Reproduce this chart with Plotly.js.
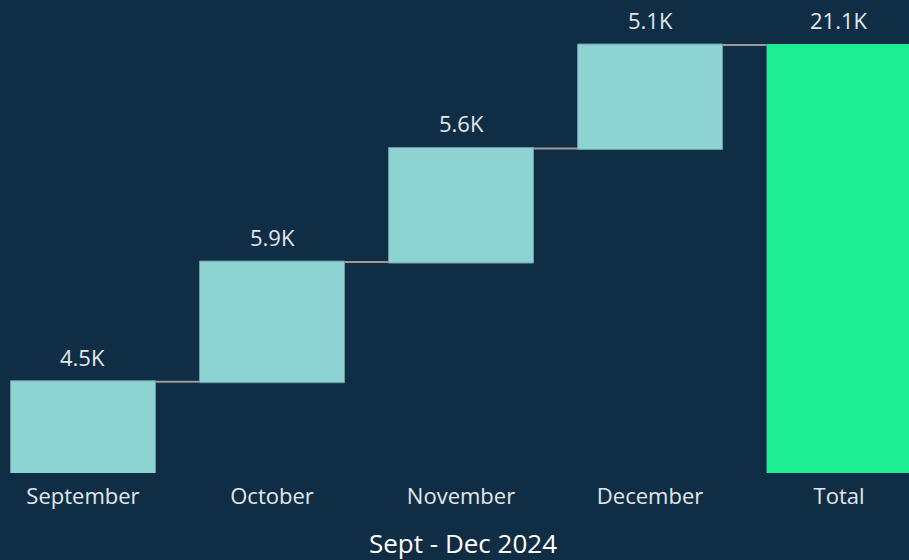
<!DOCTYPE html>
<html>
<head>
<meta charset="utf-8">
<script src="https://cdn.plot.ly/plotly-3.0.1.min.js"></script>
<style>
html,body{margin:0;padding:0;background:#0f2e46;overflow:hidden;}
#chart{width:909px;height:560px;}
</style>
</head>
<body>
<div id="chart"></div>
<script>
const categories = ["September", "October", "November", "December", "Total"];
const measures = ["relative", "relative", "relative", "relative", "total"];
const values = [4.5, 5.9, 5.6, 5.1, 0];
const labels = ["4.5K", "5.9K", "5.6K", "5.1K", "21.1K"];
const chartTitle = "Sept - Dec 2024";

// cumulative tops for label placement
const tops = [];
let run = 0;
for (let i = 0; i < values.length; i++) {
  if (measures[i] === "total") { tops.push(run); } else { run += values[i]; tops.push(run); }
}

const trace = {
  type: "waterfall",
  x: categories,
  y: values,
  measure: measures,
  textposition: "none",
  increasing: { marker: { color: "#8dd3d2", line: { color: "#6f9aa0", width: 1 } } },
  decreasing: { marker: { color: "#8dd3d2", line: { color: "#6f9aa0", width: 1 } } },
  totals: { marker: { color: "#1ded93", line: { color: "#1ded93", width: 0 } } },
  connector: { line: { color: "#9a9a9a", width: 2 }, mode: "between" },
  hoverinfo: "none"
};

const annotations = categories.map((c, i) => ({
  x: c, y: tops[i], xref: "x", yref: "y",
  text: labels[i], showarrow: false, yanchor: "bottom", yshift: 8,
  font: { family: "Open Sans, sans-serif", size: 22, color: "#e4e8ec" }
}));
annotations.push({
  x: 0.509, y: -(543 - 473) / 473, xref: "paper", yref: "paper", showarrow: false,
  text: chartTitle, xanchor: "center", yanchor: "middle",
  font: { family: "Open Sans, sans-serif", size: 26, color: "#ffffff" }
});

const layout = {
  width: 909, height: 560,
  paper_bgcolor: "#0f2e46", plot_bgcolor: "#0f2e46",
  margin: { l: 0, r: 0, t: 0, b: 87 },
  waterfallgap: 0.233,
  showlegend: false,
  xaxis: {
    type: "category",
    range: [-0.439, 4.37],
    showgrid: false, zeroline: false, showline: false,
    ticks: "", ticklabelstandoff: 8,
    tickfont: { family: "Open Sans, sans-serif", size: 22, color: "#e4e8ec" },
    fixedrange: true
  },
  yaxis: {
    range: [0, 23.32],
    visible: false, showgrid: false, zeroline: false,
    fixedrange: true
  },
  annotations: annotations
};

Plotly.newPlot("chart", [trace], layout, { displayModeBar: false, staticPlot: true });
</script>
</body>
</html>
